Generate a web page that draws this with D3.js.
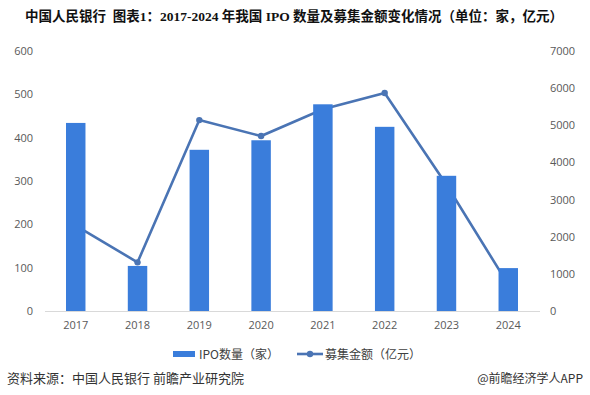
<!DOCTYPE html>
<html>
<head>
<meta charset="utf-8">
<script src="https://cdn.jsdelivr.net/npm/d3@7"></script>
<style>
  body { margin: 0; background: #fff; }
  svg { display: block; }
  .tick text { fill: #595959; font-size: 11px; font-family: "Open Sans", "Noto Sans CJK SC", sans-serif; }
</style>
</head>
<body>
<div id="chart"></div>
<script>
// data
var years = ["2017", "2018", "2019", "2020", "2021", "2022", "2023", "2024"];
var ipoCount = [434, 104, 372, 394, 477, 425, 312, 99];
var ipoFunds = [2300, 1310, 5140, 4710, 5430, 5870, 3400, 710];
var leftTicks = [0, 100, 200, 300, 400, 500, 600];
var rightTicks = [0, 1000, 2000, 3000, 4000, 5000, 6000, 7000];

var W = 590, H = 395;
var svg = d3.select("#chart").append("svg").attr("width", W).attr("height", H);

var x = d3.scaleBand().domain(years).range([45, 539]).paddingInner(0.685).paddingOuter(0.34);
var yL = d3.scaleLinear().domain([0, 600]).range([311, 51]);
var yR = d3.scaleLinear().domain([0, 7000]).range([311, 51]);

// title
svg.append("text")
  .attr("x", 294).attr("y", 21)
  .attr("text-anchor", "middle")
  .style("font-family", "'Liberation Serif', 'Noto Sans CJK SC', serif")
  .style("font-weight", "bold")
  .style("font-size", "13.5px")
  .style("fill", "#111")
  .style("white-space", "pre")
  .text("中国人民银行\u00a0\u00a0图表1：2017-2024 年我国 IPO 数量及募集金额变化情况（单位：家，亿元）");

// axes
var axL = svg.append("g").attr("transform", "translate(36,0)")
  .call(d3.axisLeft(yL).tickValues(leftTicks).tickSize(0).tickPadding(3));
axL.select(".domain").remove();

var axR = svg.append("g").attr("transform", "translate(547,0)")
  .call(d3.axisRight(yR).tickValues(rightTicks).tickFormat(d3.format("d")).tickSize(0).tickPadding(3));
axR.select(".domain").remove();

var axX = svg.append("g").attr("transform", "translate(0,311)")
  .call(d3.axisBottom(x).tickSize(0).tickPadding(10));
axX.select(".domain").remove();

svg.append("line")
  .attr("x1", 45).attr("x2", 540).attr("y1", 311.5).attr("y2", 311.5)
  .attr("stroke", "#d9d9d9").attr("stroke-width", 1);

// line (drawn under the bars)
var line = d3.line()
  .x(function(d, i) { return x(years[i]) + x.bandwidth() / 2; })
  .y(function(d) { return yR(d); });

svg.append("path")
  .datum(ipoFunds)
  .attr("d", line)
  .attr("fill", "none")
  .attr("stroke", "#4a74b4")
  .attr("stroke-width", 2.6);

svg.selectAll(".dot")
  .data(ipoFunds)
  .enter().append("circle")
  .attr("class", "dot")
  .attr("cx", function(d, i) { return x(years[i]) + x.bandwidth() / 2; })
  .attr("cy", function(d) { return yR(d); })
  .attr("r", 3.2)
  .attr("fill", "#4a74b4");

// bars
svg.selectAll(".bar")
  .data(ipoCount)
  .enter().append("rect")
  .attr("class", "bar")
  .attr("x", function(d, i) { return x(years[i]); })
  .attr("width", x.bandwidth())
  .attr("y", function(d) { return yL(d); })
  .attr("height", function(d) { return yL(0) - yL(d); })
  .attr("fill", "#3a7ddb");

// legend
var lg = svg.append("g")
  .style("font-family", "'Noto Sans CJK SC', sans-serif")
  .style("font-size", "12px")
  .style("fill", "#404040");
lg.append("rect").attr("x", 173).attr("y", 351).attr("width", 22).attr("height", 6).attr("fill", "#3a7ddb");
lg.append("text").attr("x", 199).attr("y", 358.5).text("IPO数量（家）");
lg.append("line").attr("x1", 297).attr("x2", 323).attr("y1", 354).attr("y2", 354)
  .attr("stroke", "#4a74b4").attr("stroke-width", 2.6);
lg.append("circle").attr("cx", 310).attr("cy", 354).attr("r", 3.2).attr("fill", "#4a74b4");
lg.append("text").attr("x", 325).attr("y", 358.5).text("募集金额（亿元）");

// footer
svg.append("text")
  .attr("x", 7).attr("y", 383)
  .style("font-family", "'Noto Sans CJK SC', sans-serif")
  .style("font-size", "13px")
  .style("fill", "#333")
  .text("资料来源：中国人民银行\u00a0前瞻产业研究院");
svg.append("text")
  .attr("x", 583).attr("y", 383)
  .attr("text-anchor", "end")
  .style("font-family", "'Noto Sans CJK SC', sans-serif")
  .style("font-size", "12px")
  .style("fill", "#333")
  .text("@前瞻经济学人APP");
</script>
</body>
</html>
